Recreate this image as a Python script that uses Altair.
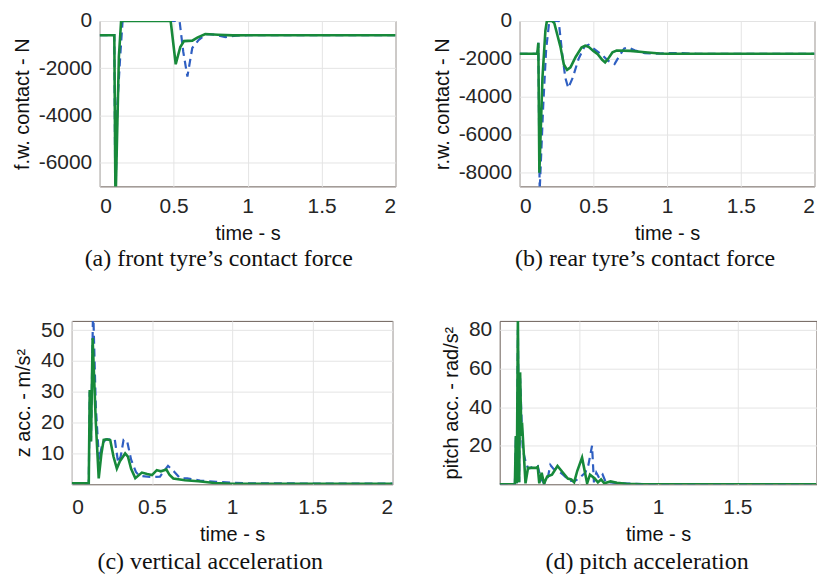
import altair as alt
import pandas as pd

GREEN = "#17893a"
BLUE = "#2f5fc2"

# ---------- (a) front tyre's contact force ----------
a_green_t = [0, 0.099, 0.107, 0.13, 0.145, 0.48, 0.514, 0.545, 0.57, 0.626, 0.66, 0.714, 0.8, 0.9, 1.0, 2.0]
a_green_v = [-600, -600, -7800, -1500, 0, 0, -1830, -1100, -850, -830, -700, -550, -580, -610, -600, -600]
a_blue_t = [0, 0.099, 0.106, 0.12, 0.14, 0.155, 0.54, 0.565, 0.593, 0.626, 0.67, 0.72, 0.78, 0.85, 0.92, 1.0, 2.0]
a_blue_v = [-600, -600, -7800, -3500, -1400, 0, 0, -1300, -2350, -1140, -800, -560, -580, -680, -620, -600, -600]

# ---------- (b) rear tyre's contact force ----------
b_green_t = [0, 0.12, 0.127, 0.134, 0.155, 0.175, 0.185, 0.22, 0.235, 0.278, 0.3, 0.322, 0.345, 0.38, 0.42,
             0.445, 0.47, 0.5, 0.53, 0.56, 0.58, 0.6, 0.63, 0.658, 0.75, 0.85, 0.95, 1.0, 2.0]
b_green_v = [-1730, -1730, -1150, -8020, -3000, -500, 0, 0, -100, -1400, -2300, -2580, -2450, -1900, -1400,
             -1300, -1380, -1580, -1750, -2050, -2190, -2000, -1650, -1560, -1580, -1650, -1720, -1730, -1730]
b_blue_t = [0, 0.12, 0.127, 0.136, 0.16, 0.18, 0.2, 0.21, 0.265, 0.29, 0.31, 0.33, 0.36, 0.4, 0.44, 0.468,
            0.5, 0.56, 0.6, 0.644, 0.68, 0.71, 0.736, 0.78, 0.85, 0.92, 1.0, 1.1, 1.2, 2.0]
b_blue_v = [-1730, -1730, -1150, -9000, -4500, -1500, -100, 0, 0, -1800, -3000, -3540, -3000, -2000, -1350, -1260,
            -1450, -1800, -2100, -2280, -1800, -1450, -1400, -1550, -1700, -1720, -1700, -1700, -1730, -1730]

# ---------- (c) vertical acceleration ----------
c_green_t = [0, 0.106, 0.112, 0.12, 0.13, 0.15, 0.168, 0.185, 0.199, 0.22, 0.24, 0.26, 0.281, 0.3, 0.333, 0.35,
             0.37, 0.396, 0.437, 0.47, 0.5, 0.53, 0.555, 0.59, 0.61, 0.633, 0.706, 0.789, 0.89, 1.0, 2.0]
c_green_v = [0.3, 0.3, 30.6, 13.9, 47.4, 20, 1.9, 10, 14.4, 14.6, 14.3, 9, 5.1, 7.5, 10, 9,
             5, 2, 3.8, 3.3, 3.0, 4.6, 4.2, 4.8, 3, 1.9, 1.3, 1.0, 0.4, 0.2, 0.2]
c_blue_t = [0, 0.106, 0.112, 0.12, 0.133, 0.15, 0.17, 0.19, 0.21, 0.268, 0.289, 0.305, 0.323, 0.345, 0.37,
            0.4, 0.42, 0.5, 0.55, 0.6, 0.64, 0.675, 0.72, 0.8, 0.9, 1.0, 1.1, 2.0]
c_blue_v = [0.3, 0.3, 30, 14, 58, 25, 8, 13, 14.5, 14.6, 7, 9, 14.4, 14, 8,
            4, 2.8, 2.3, 2.5, 6.0, 4, 2, 1.9, 1.2, 0.8, 0.5, 0.3, 0.2]

# ---------- (d) pitch acceleration ----------
d_green_t = [0, 0.096, 0.102, 0.108, 0.115, 0.123, 0.129, 0.137, 0.141, 0.163, 0.179, 0.2, 0.23, 0.24, 0.25,
             0.265, 0.28, 0.3, 0.33, 0.365, 0.4, 0.43, 0.452, 0.47, 0.49, 0.52, 0.552, 0.57, 0.6, 0.62, 0.64,
             0.66, 0.7, 0.74, 0.8, 0.9, 2.0]
d_green_v = [0, 0, 25, 0.5, 86, 1, 58, 25, 32, 0.5, 8.5, 8.5, 8.5, 9, 0.5,
             6, 0.3, 4, 5, 9.5, 6, 3, 2.5, 1, 7, 13.8, 0.5, 5, 3, 1, 2.5,
             0.5, 1.5, 0.8, 0.3, 0, 0]
d_blue_t = [0, 0.096, 0.102, 0.108, 0.115, 0.123, 0.129, 0.14, 0.146, 0.163, 0.18, 0.21, 0.24, 0.26, 0.28,
            0.3, 0.32, 0.34, 0.37, 0.4, 0.44, 0.47, 0.5, 0.54, 0.56, 0.583, 0.595, 0.61, 0.63, 0.65, 0.67,
            0.7, 0.75, 0.85, 0.95, 2.0]
d_blue_v = [0, 0, 25, 0.5, 80, 1, 55, 30, 18, 12, 8, 9, 9.5, 3, 0.5,
            2, 10, 8, 7, 5, 2, 1.5, 3, 6, 10, 20, 1, 6, 3, 5, 1,
            1, 0.5, 0.3, 0, 0]

AXIS_FONT = "Liberation Sans"
CAP_FONT = "Liberation Serif"


def panel(gt, gv, bt, bv, ydom, yticks, xticks, ytitle, caption, w, h, ytp, capdx, xlp, capoff):
    dg = pd.DataFrame({"t": gt, "v": gv, "i": range(len(gt))})
    db = pd.DataFrame({"t": bt, "v": bv, "i": range(len(bt))})
    x = alt.X("t:Q", scale=alt.Scale(domain=[0, 2], nice=False, zero=False),
              axis=alt.Axis(values=xticks, title="time - s", labelExpr="'' + datum.value",
                            labelPadding=xlp))
    y = alt.Y("v:Q", scale=alt.Scale(domain=ydom, nice=False, zero=False),
              axis=alt.Axis(values=yticks, title=ytitle, labelExpr="'' + datum.value", titlePadding=ytp))
    blue = alt.Chart(db).mark_line(color=BLUE, strokeWidth=2.2, strokeDash=[8, 5], clip=True).encode(
        x=x, y=y, order="i:Q")
    green = alt.Chart(dg).mark_line(color=GREEN, strokeWidth=2.6, clip=True).encode(
        x=x, y=y, order="i:Q")
    return alt.layer(blue, green).properties(
        width=w, height=h,
        title=alt.TitleParams(caption, orient="bottom", font=CAP_FONT, fontSize=24, fontWeight="normal",
                              color="#111111", frame="group", anchor="middle", dx=capdx, offset=capoff),
    )


def spacer(w):
    return alt.Chart(pd.DataFrame({"s": [0]})).mark_point(opacity=0, size=1).properties(
        width=w, height=1, view=alt.ViewBackground(stroke="transparent"))


pa = panel(a_green_t, a_green_v, a_blue_t, a_blue_v, [-7000, 0], [-6000, -4000, -2000, 0],
           [0, 0.5, 1, 1.5, 2], "f.w. contact - N", "(a) front tyre\u2019s contact force", 297, 166, 6, -29, 9, 4)
pb = panel(b_green_t, b_green_v, b_blue_t, b_blue_v, [-8740, 0], [-8000, -6000, -4000, -2000, 0],
           [0, 0.5, 1, 1.5, 2], "r.w. contact - N", "(b) rear tyre\u2019s contact force", 296, 166, 6, -22, 9, 4)
pc = panel(c_green_t, c_green_v, c_blue_t, c_blue_v, [0, 53], [10, 20, 30, 40, 50],
           [0, 0.5, 1, 1.5, 2], "z acc. - m/s\u00b2", "(c) vertical acceleration", 322, 164, 7, -22, 12, 6)
pd_ = panel(d_green_t, d_green_v, d_blue_t, d_blue_v, [0, 84.7], [20, 40, 60, 80],
            [0.5, 1, 1.5], "pitch acc. - rad/s\u00b2", "(d) pitch acceleration", 318, 164, 7, -11, 12, 6)

top = alt.hconcat(spacer(1), alt.hconcat(pa, pb, spacing=34.5), spacing=0)
bottom = alt.hconcat(spacer(3.5), alt.hconcat(pc, pd_, spacing=47.5), spacing=0)

chart = alt.vconcat(top, bottom, spacing=46).properties(
    padding={"left": 0, "top": 0, "right": 0, "bottom": 0}
).configure_view(
    stroke="#6b5f58", strokeWidth=1
).configure_axis(
    grid=True, gridColor="#e4e4e4", gridWidth=1, domain=False, ticks=False, tickSize=0,
    labelFont=AXIS_FONT, labelFontSize=21, labelColor="#262626", labelPadding=8,
    titleFont=AXIS_FONT, titleFontSize=20, titleFontWeight="normal", titleColor="#111111",
    titlePadding=8,
).configure_axisX(titlePadding=7, titleFontSize=20)

chart.save("out.html", embed_options={"renderer": "svg", "actions": False})
